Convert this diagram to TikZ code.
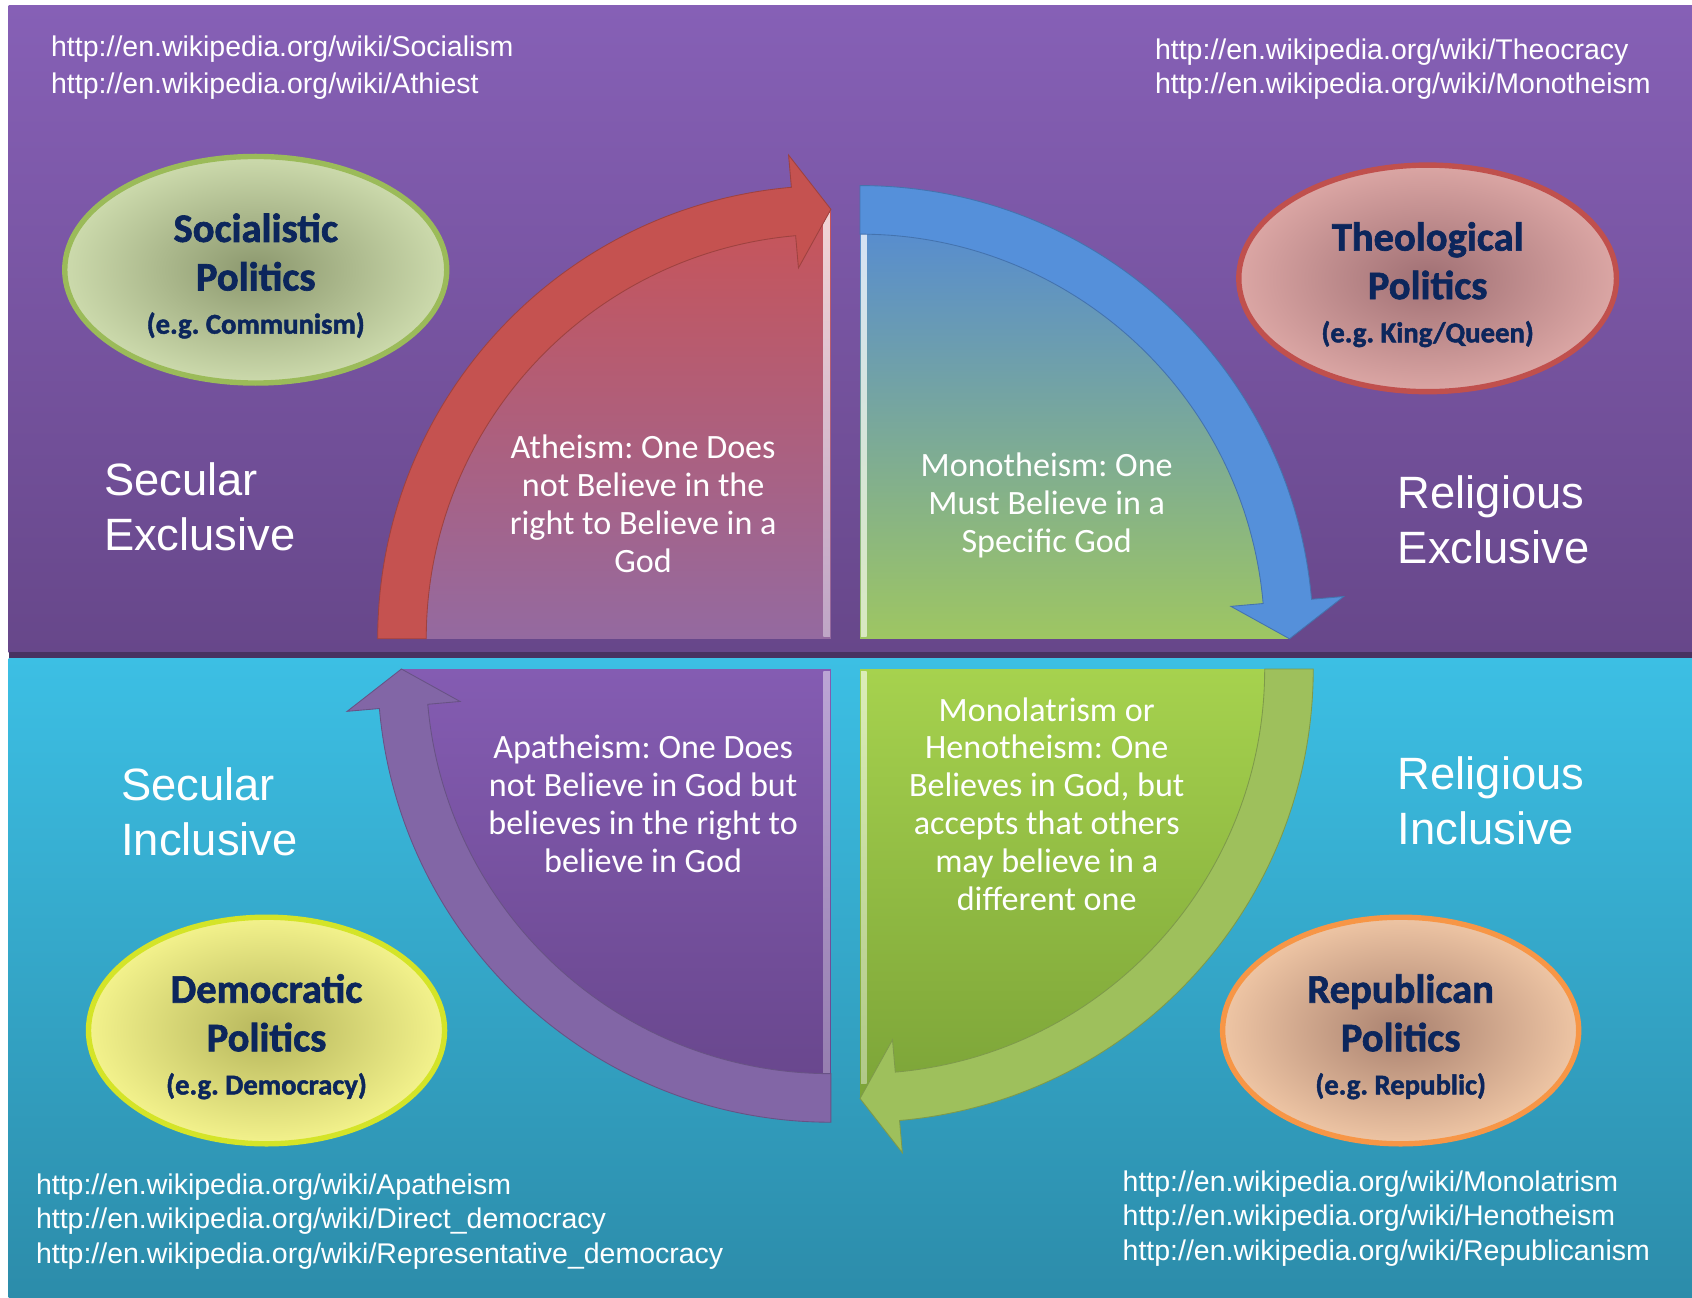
\documentclass[tikz,border=0pt]{standalone}
\usepackage{fontspec}
\newfontfamily\calibri{Carlito}
\newfontfamily\heavy{Carlito}[BoldFeatures={FakeBold=1.6}]
\newfontfamily\arial{Liberation Sans}
\usetikzlibrary{shapes.geometric}
\usetikzlibrary{positioning}

\definecolor{purpleTop}{RGB}{134,96,182}
\definecolor{purpleBot}{RGB}{103,71,138}
\definecolor{cyanTop}{RGB}{60,191,228}
\definecolor{cyanBot}{RGB}{44,140,170}
\definecolor{arrowRed}{RGB}{197,82,80}
\definecolor{arrowBlue}{RGB}{85,144,218}
\definecolor{arrowPurple}{RGB}{130,102,166}
\definecolor{arrowGreen}{RGB}{158,192,92}
\definecolor{athTop}{RGB}{200,84,88}
\definecolor{athBot}{RGB}{148,106,160}
\definecolor{monoTop}{RGB}{84,138,212}
\definecolor{monoBot}{RGB}{158,198,98}
\definecolor{apaTop}{RGB}{132,92,178}
\definecolor{apaBot}{RGB}{104,70,140}
\definecolor{henoTop}{RGB}{166,210,78}
\definecolor{henoBot}{RGB}{124,164,56}
\definecolor{labelBlue}{RGB}{12,38,92}

\begin{document}
\frenchspacing
\begin{tikzpicture}[x=0.5pt, y=0.5pt,
  url/.style={font={\arial\fontsize{13.2}{16}\selectfont}, text=white,
    align=left, anchor=west, inner sep=0pt},
  zone/.style={font={\arial\fontsize{21}{25.5}\selectfont}, text=white,
    align=left, anchor=west, inner sep=0pt},
  belief/.style={font={\calibri\fontsize{15.8}{17.5}\selectfont}, text=white,
    align=center, inner sep=0pt},
  politics/.style={ellipse, line width=2.5pt, inner sep=0pt,
    minimum width=165pt, minimum height=105pt, text=labelBlue, align=center,
    font={\heavy\bfseries\fontsize{18.8}{22.5}\selectfont}},
  band/.pic={
    \path[pic actions] (180:420) arc[start angle=180, end angle=95, radius=420]
      -- (95:450) -- (90:398) -- (95:345) -- (95:375)
      arc[start angle=95, end angle=180, radius=375] -- cycle;
  }]
  \useasboundingbox (0,0) rectangle (1568,1202);
  \fill[white] (0,0) rectangle (1568,1202);

  % Background panels
  \shade[top color=purpleTop, bottom color=purpleBot] (8,597) rectangle (1568,1197);
  \shade[top color=cyanTop, bottom color=cyanBot] (8,0) rectangle (1568,592);
  \fill[purpleBot!70!black] (8,592) rectangle (1568,598);

  % Quadrant centres
  \coordinate (cTL) at (770,610);
  \coordinate (cTR) at (797,610);
  \coordinate (cBL) at (770,582);
  \coordinate (cBR) at (797,582);

  % Quarter pies
  \shade[top color=athTop, bottom color=athBot] (cTL) -- ++(180:397)
    arc[start angle=180, end angle=90, radius=397] -- cycle;
  \shade[top color=monoTop, bottom color=monoBot] (cTR) -- ++(90:397)
    arc[start angle=90, end angle=0, radius=397] -- cycle;
  \shade[top color=apaTop, bottom color=apaBot] (cBL) -- ++(180:397)
    arc[start angle=180, end angle=270, radius=397] -- cycle;
  \shade[top color=henoTop, bottom color=henoBot] (cBR) -- ++(0:397)
    arc[start angle=0, end angle=-90, radius=397] -- cycle;
  % light bevel edges
  \shade[top color=white!75!athTop, bottom color=white!40!athBot] (763,612) rectangle (769,1004);
  \shade[top color=white!75!monoTop, bottom color=white!60!monoBot] (798,612) rectangle (803,990);
  \shade[top color=white!45!apaTop, bottom color=white!30!apaBot] (763,198) rectangle (769,580);
  \shade[top color=white!60!henoTop, bottom color=white!40!henoBot] (798,198) rectangle (803,580);

  % Curved arrows
  \pic[fill=arrowRed, draw=arrowRed!80!black, line width=0.4pt] at (cTL) {band};
  \pic[rotate=-90, fill=arrowBlue, draw=arrowBlue!80!black, line width=0.4pt] at (cTR) {band};
  \pic[rotate=90, fill=arrowPurple, draw=arrowPurple!80!black, line width=0.4pt] at (cBL) {band};
  \pic[rotate=180, fill=arrowGreen, draw=arrowGreen!80!black, line width=0.4pt] at (cBR) {band};

  % Beliefs
  \node[belief] (atheism) at (596,735) {Atheism: One Does\\not Believe in the\\right to Believe in a\\God};
  \node[belief] (monotheism) at (970,733.5) {Monotheism: One\\Must Believe in a\\Specific God};
  \node[belief] (apatheism) at (596,457) {Apatheism: One Does\\not Believe in God but\\believes in the right to\\believe in God};
  \node[belief] (monolatrism) at (970,457) {Monolatrism or\\Henotheism: One\\Believes in God, but\\accepts that others\\may believe in a\\different one};

  % Zones
  \node[zone] (secExcl) at (96,732) {Secular\\Exclusive};
  \node[zone] (relExcl) at (1295,720) {Religious\\Exclusive};
  \node[zone] (secIncl) at (112,450) {Secular\\Inclusive};
  \node[zone] (relIncl) at (1295,460) {Religious\\Inclusive};

  % Politics
  \node[politics, minimum width=177pt, draw={rgb,255:red,155;green,187;blue,89},
    inner color={rgb,255:red,140;green,152;blue,110}, outer color={rgb,255:red,204;green,218;blue,172}]
    (socPol) at (237,952) {\rule{0pt}{19pt}Socialistic\\Politics\\[-2.5pt]{\fontsize{13.3}{16}\selectfont (e.g. Communism)}};
  \node[politics, minimum width=175pt, draw={rgb,255:red,192;green,80;blue,77},
    inner color={rgb,255:red,160;green,112;blue,116}, outer color={rgb,255:red,219;green,166;blue,164}]
    (theoPol) at (1323,944) {\rule{0pt}{19pt}Theological\\Politics\\[-2.5pt]{\fontsize{13.3}{16}\selectfont (e.g. King/Queen)}};
  \node[politics, draw={rgb,255:red,212;green,228;blue,40},
    inner color={rgb,255:red,182;green,182;blue,92}, outer color={rgb,255:red,243;green,242;blue,140}]
    (demoPol) at (247,247) {\rule{0pt}{19pt}Democratic\\Politics\\[-2.5pt]{\fontsize{13.3}{16}\selectfont (e.g. Democracy)}};
  \node[politics, draw={rgb,255:red,247;green,150;blue,70},
    inner color={rgb,255:red,170;green,130;blue,112}, outer color={rgb,255:red,238;green,197;blue,164}]
    (repPol) at (1298,247) {\rule{0pt}{19pt}Republican\\Politics\\[-2.5pt]{\fontsize{13.3}{16}\selectfont (e.g. Republic)}};

  % Links
  \node[url] (urlTL) at (47,1139) {http://en.wikipedia.org/wiki/Socialism\\[1pt]http://en.wikipedia.org/wiki/Athiest};
  \node[url] (urlTR) at (1070,1138) {http://en.wikipedia.org/wiki/Theocracy\\http://en.wikipedia.org/wiki/Monotheism};
  \node[url] (urlBL) at (33,70) {http://en.wikipedia.org/wiki/Apatheism\\http://en.wikipedia.org/wiki/Direct\_democracy\\http://en.wikipedia.org/wiki/Representative\_democracy};
  \node[url] (urlBR) at (1040,73) {http://en.wikipedia.org/wiki/Monolatrism\\http://en.wikipedia.org/wiki/Henotheism\\http://en.wikipedia.org/wiki/Republicanism};
\end{tikzpicture}
\end{document}
